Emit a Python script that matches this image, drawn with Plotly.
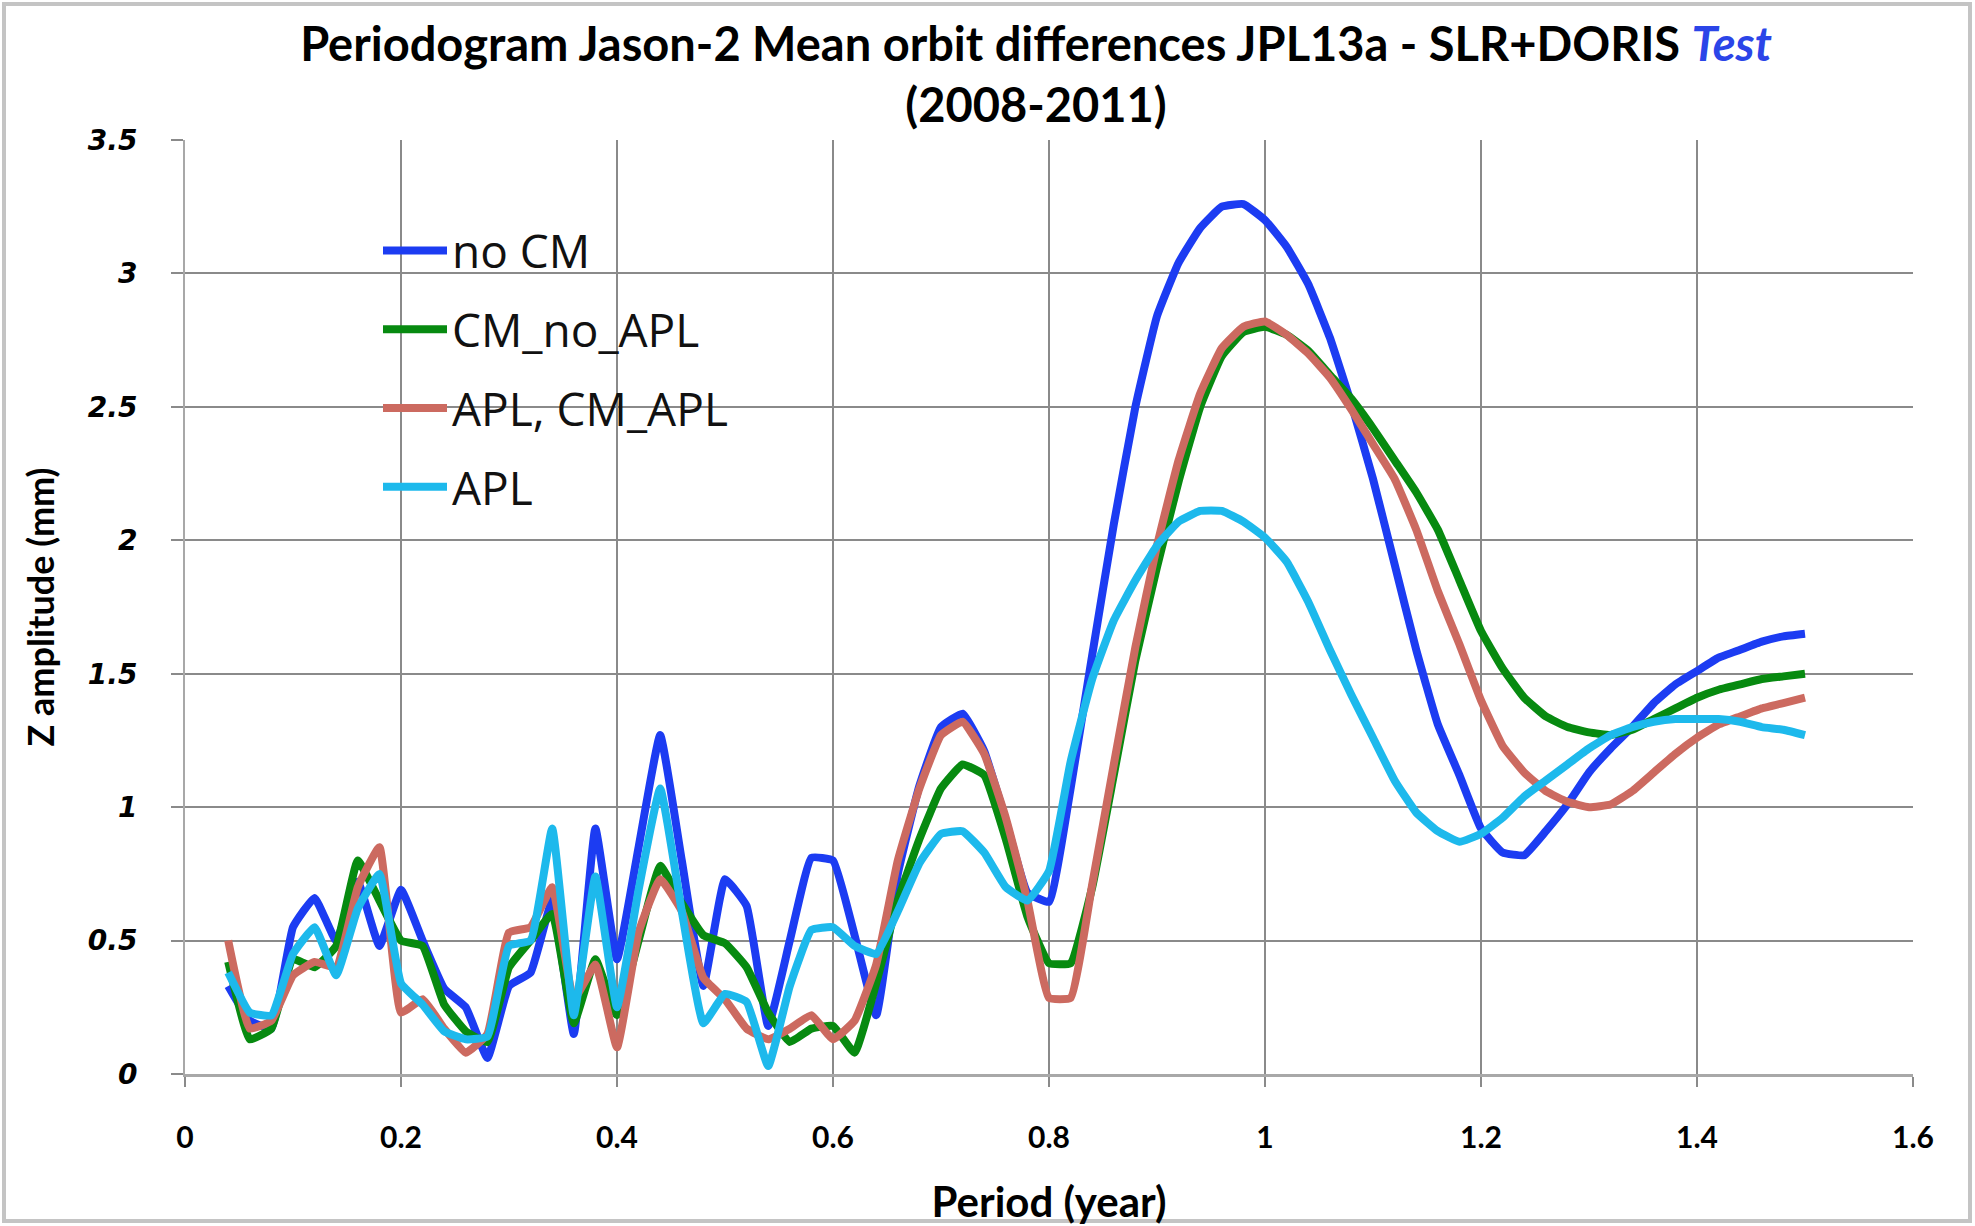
import plotly.graph_objects as go

# ---- data ----
period = [0.04, 0.06, 0.08, 0.10, 0.12, 0.14, 0.16, 0.18, 0.20, 0.22,
          0.24, 0.26, 0.28, 0.30, 0.32, 0.34, 0.36, 0.38, 0.40, 0.42,
          0.44, 0.46, 0.48, 0.50, 0.52, 0.54, 0.56, 0.58, 0.60, 0.62,
          0.64, 0.66, 0.68, 0.70, 0.72, 0.74, 0.76, 0.78, 0.80, 0.82,
          0.84, 0.86, 0.88, 0.90, 0.92, 0.94, 0.96, 0.98, 1.00, 1.02,
          1.04, 1.06, 1.08, 1.10, 1.12, 1.14, 1.16, 1.18, 1.20, 1.22,
          1.24, 1.26, 1.28, 1.30, 1.32, 1.34, 1.36, 1.38, 1.40, 1.42,
          1.44, 1.46, 1.48, 1.50]

no_cm = [0.33, 0.20, 0.17, 0.55, 0.66, 0.50, 0.72, 0.48, 0.69, 0.50,
         0.32, 0.25, 0.06, 0.33, 0.38, 0.65, 0.15, 0.92, 0.43, 0.85,
         1.27, 0.80, 0.33, 0.73, 0.63, 0.18, 0.50, 0.81, 0.80, 0.52,
         0.22, 0.75, 1.08, 1.30, 1.35, 1.21, 0.95, 0.68, 0.645, 1.07,
         1.57, 2.06, 2.50, 2.84, 3.04, 3.17, 3.25, 3.26, 3.20, 3.10,
         2.96, 2.76, 2.51, 2.23, 1.91, 1.59, 1.31, 1.12, 0.92, 0.83,
         0.82, 0.91, 1.01, 1.13, 1.22, 1.30, 1.39, 1.46, 1.51, 1.56,
         1.59, 1.62, 1.64, 1.65]

cm_no_apl = [0.42, 0.13, 0.17, 0.43, 0.40, 0.48, 0.80, 0.65, 0.50, 0.48,
             0.26, 0.16, 0.12, 0.40, 0.50, 0.60, 0.19, 0.43, 0.22, 0.50,
             0.78, 0.64, 0.52, 0.49, 0.40, 0.23, 0.12, 0.17, 0.18, 0.08,
             0.34, 0.65, 0.88, 1.07, 1.16, 1.12, 0.88, 0.59, 0.415, 0.415,
             0.70, 1.12, 1.55, 1.90, 2.22, 2.50, 2.69, 2.78, 2.80, 2.77,
             2.71, 2.62, 2.53, 2.42, 2.30, 2.18, 2.04, 1.85, 1.66, 1.52,
             1.41, 1.34, 1.30, 1.28, 1.27, 1.29, 1.33, 1.37, 1.41, 1.44,
             1.46, 1.48, 1.49, 1.50]

apl_cm_apl = [0.50, 0.17, 0.20, 0.37, 0.42, 0.40, 0.70, 0.85, 0.23, 0.28,
              0.17, 0.08, 0.15, 0.53, 0.55, 0.70, 0.28, 0.41, 0.10, 0.53,
              0.73, 0.61, 0.36, 0.28, 0.17, 0.13, 0.17, 0.22, 0.13, 0.20,
              0.41, 0.80, 1.07, 1.27, 1.32, 1.20, 0.96, 0.65, 0.285, 0.285,
              0.71, 1.16, 1.60, 1.98, 2.30, 2.55, 2.72, 2.80, 2.82, 2.77,
              2.70, 2.61, 2.49, 2.36, 2.23, 2.04, 1.81, 1.61, 1.40, 1.23,
              1.13, 1.06, 1.02, 1.00, 1.01, 1.06, 1.13, 1.20, 1.26, 1.31,
              1.34, 1.37, 1.39, 1.41]

apl = [0.38, 0.23, 0.22, 0.45, 0.55, 0.37, 0.62, 0.75, 0.34, 0.26,
       0.16, 0.13, 0.14, 0.48, 0.50, 0.92, 0.22, 0.74, 0.25, 0.69,
       1.07, 0.61, 0.19, 0.30, 0.27, 0.03, 0.33, 0.54, 0.55, 0.48,
       0.45, 0.61, 0.79, 0.90, 0.91, 0.83, 0.70, 0.65, 0.76, 1.17,
       1.48, 1.70, 1.85, 1.98, 2.07, 2.11, 2.11, 2.07, 2.01, 1.92,
       1.77, 1.59, 1.42, 1.26, 1.10, 0.98, 0.91, 0.87, 0.90, 0.96,
       1.04, 1.10, 1.16, 1.22, 1.27, 1.30, 1.32, 1.33, 1.33, 1.33,
       1.32, 1.30, 1.29, 1.27]

series_names = ["no CM", "CM_no_APL", "APL, CM_APL", "APL"]
series_values = [no_cm, cm_no_apl, apl_cm_apl, apl]
series_colors = ["#1C3CF2", "#078A10", "#CC6A60", "#1DB9EC"]

title_line1 = "Periodogram Jason-2 Mean orbit differences JPL13a - SLR+DORIS "
title_test = "Test"
title_line2 = "(2008-2011)"
x_title = "Period (year)"
y_title = "Z amplitude (mm)"

# ---- figure ----
W, H = 1975, 1226
L, R, T, B = 185, 62, 140, 152
PW, PH = W - L - R, H - T - B

def px_to_paper_x(px):
    return (px - L) / PW

def px_to_paper_y(py):
    return (H - B - py) / PH

fig = go.Figure()
for name, vals, col in zip(series_names, series_values, series_colors):
    fig.add_trace(go.Scatter(
        x=period, y=vals, mode="lines", name=name,
        legendgroup=name,
        line=dict(color=col, width=8, shape="spline", smoothing=0.35),
    ))

grid_col = "#8a8a8a"
fig.update_layout(
    width=W, height=H,
    margin=dict(l=L, r=R, t=T, b=B, autoexpand=False),
    paper_bgcolor="white", plot_bgcolor="white",
    title=dict(
        text=(f"{title_line1}<span style='color:#2B45E8'><i>{title_test}</i></span>"
              f"<br>{title_line2}"),
        x=1036 / W, xanchor="center",
        y=1 - 61 / H, yanchor="middle", yref="container",
        font=dict(family="Lato", size=47, color="black", weight="bold"),
    ),
    showlegend=True,
    legend=dict(
        x=px_to_paper_x(378), y=px_to_paper_y(214),
        xanchor="left", yanchor="top",
        bgcolor="rgba(0,0,0,0)",
        font=dict(family="Open Sans", size=46, color="#111111"),
        itemwidth=64,
        tracegroupgap=16,
    ),
    xaxis=dict(
        range=[0, 1.6], tick0=0, dtick=0.2,
        automargin=False,
        showgrid=True, gridcolor=grid_col, gridwidth=1.5,
        zeroline=False,
        showline=True, linecolor="#a8a8a8", linewidth=3,
        ticks="outside", ticklen=10, tickcolor=grid_col, tickwidth=1.5,
        ticklabelstandoff=25,
        tickfont=dict(family="Lato", size=30, color="black", weight="bold"),
        title=dict(text=x_title, standoff=37,
                   font=dict(family="Lato", size=42, color="black", weight="bold")),
    ),
    yaxis=dict(
        range=[0, 3.5], tick0=0, dtick=0.5,
        automargin=False,
        showgrid=True, gridcolor=grid_col, gridwidth=1.5,
        zeroline=False,
        showline=True, linecolor="#a8a8a8", linewidth=2,
        ticks="outside", ticklen=12, tickcolor=grid_col, tickwidth=1.5,
        ticklabelstandoff=28,
        tickfont=dict(family="DejaVu Sans", size=28, color="black",
                      weight="bold", style="italic"),
        title=dict(text=y_title, standoff=22,
                   font=dict(family="Lato", size=36, color="black", weight="bold")),
    ),
    shapes=[dict(
        type="rect", xref="paper", yref="paper",
        x0=px_to_paper_x(4), x1=px_to_paper_x(1970),
        y0=px_to_paper_y(1221), y1=px_to_paper_y(4),
        line=dict(color="#c4c4c4", width=4), fillcolor="rgba(0,0,0,0)",
        layer="below",
    )],
)

fig.write_html("out.html", include_plotlyjs=True,
               config={"displayModeBar": False},
               post_script="document.body.style.margin='0px';")
